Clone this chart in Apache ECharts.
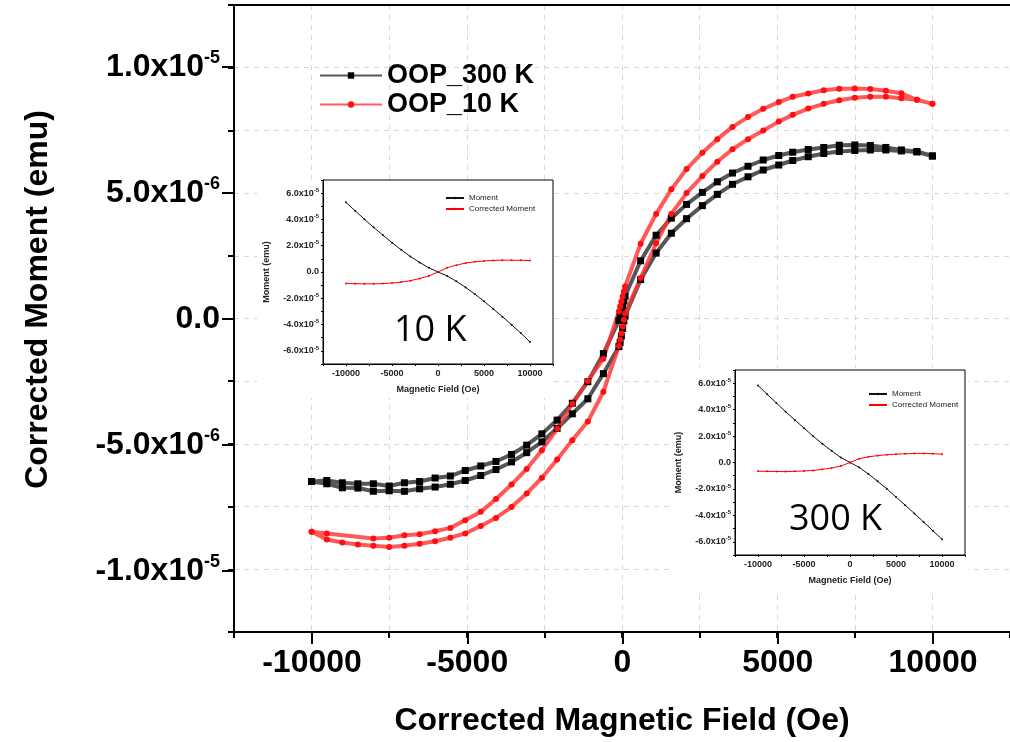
<!DOCTYPE html>
<html><head><meta charset="utf-8">
<script src="https://cdn.jsdelivr.net/npm/echarts@6.0.0/dist/echarts.min.js"></script>
<style>html,body{margin:0;padding:0;background:#fff}#c{width:1010px;height:742px}</style>
</head><body><div id="c"></div>
<script>
// ---- Main loops: field (Oe), moment in units of 1e-6 emu ----
const fieldDown = [10000,9500,9000,8500,8000,7500,7000,6500,6000,5500,5050,4550,4060,3560,3070,2590,2080,1590,1100,600,
  100,60,20,-20,-60,-100,
  -600,-1100,-1600,-2090,-2580,-3070,-3560,-4060,-4550,-5050,-5530,-6020,-6520,-7010,-7500,-8010,-8510,-9010,-9510,-10000];
const fieldUp = [-10000,-9510,-9010,-8510,-8010,-7500,-7010,-6520,-6020,-5530,-5050,-4550,-4060,-3560,-3070,-2580,-2090,-1600,-1100,-600,
  -100,-60,-20,20,60,100,
  600,1100,1590,2080,2590,3070,3560,4060,4550,5050,5500,6000,6500,7000,7500,8000,8500,9000,9500,10000];

const momentDown300 = [6.48,6.66,6.72,6.82,6.90,6.92,6.91,6.82,6.74,6.63,6.50,6.32,6.07,5.80,5.45,5.03,4.55,4.00,3.32,2.30,
  0.89,0.70,0.50,0.30,0.10,-0.08,
  -1.40,-2.52,-3.38,-4.05,-4.60,-5.05,-5.42,-5.70,-5.88,-6.06,-6.28,-6.36,-6.50,-6.55,-6.68,-6.59,-6.59,-6.55,-6.46,-6.50];
const momentUp300 = [-6.50,-6.59,-6.75,-6.76,-6.89,-6.87,-6.89,-6.79,-6.72,-6.61,-6.46,-6.26,-6.02,-5.72,-5.35,-4.92,-4.38,-3.80,-3.20,-2.20,
  -1.12,-0.95,-0.70,-0.40,-0.10,0.10,
  1.55,2.61,3.40,3.98,4.50,4.95,5.35,5.65,5.92,6.12,6.30,6.45,6.58,6.66,6.70,6.72,6.72,6.68,6.64,6.48];

const fieldDown10 = [10000,9500,9000,8500,8000,7500,7000,6500,6000,5500,5050,4550,4060,3560,3070,2590,2080,1590,1100,600,
  100,60,20,-20,-60,-100,
  -600,-1100,-1600,-2090,-2580,-3070,-3560,-4060,-4550,-5050,-5530,-6020,-6520,-7010,-7500,-8010,-9510,-10000];
const momentDown10 = [8.56,8.72,8.98,9.08,9.15,9.17,9.16,9.10,8.97,8.84,8.63,8.36,8.03,7.64,7.15,6.61,5.96,5.15,4.17,2.98,
  1.28,1.08,0.88,0.68,0.48,0.28,
  -1.60,-2.49,-3.40,-4.40,-5.25,-6.00,-6.62,-7.20,-7.71,-8.04,-8.35,-8.48,-8.60,-8.64,-8.74,-8.77,-8.57,-8.50];
const momentUp10 = [-8.50,-8.81,-8.93,-9.01,-9.06,-9.11,-9.06,-8.98,-8.88,-8.74,-8.57,-8.27,-7.95,-7.52,-6.98,-6.35,-5.62,-4.85,-4.11,-2.92,
  -1.10,-0.85,-0.60,-0.32,-0.05,0.20,
  1.61,3.00,4.17,5.00,5.68,6.25,6.75,7.15,7.50,7.85,8.12,8.37,8.56,8.70,8.80,8.84,8.84,8.78,8.72,8.56];

// ---- Insets: field (Oe), moment in units of 1e-5 emu ----
const insetField = [-10000,-9000,-8000,-7000,-6000,-5000,-4000,-3000,-2000,-1000,0,1000,2000,3000,4000,5000,6000,7000,8000,9000,10000];
const rawMoment10 = [5.30,4.65,4.02,3.40,2.81,2.23,1.69,1.18,0.73,0.32,0.00,-0.30,-0.71,-1.17,-1.68,-2.23,-2.81,-3.40,-4.02,-4.65,-5.32];
const corrMoment10 = [-0.87,-0.89,-0.90,-0.90,-0.88,-0.84,-0.77,-0.66,-0.50,-0.30,0.00,0.33,0.52,0.68,0.78,0.84,0.88,0.90,0.90,0.89,0.87];
const rawMoment300 = [5.83,5.16,4.50,3.85,3.22,2.60,1.99,1.42,0.88,0.38,0.00,-0.37,-0.87,-1.42,-1.99,-2.61,-3.23,-3.86,-4.50,-5.16,-5.81];
const corrMoment300 = [-0.66,-0.67,-0.68,-0.69,-0.67,-0.64,-0.60,-0.52,-0.42,-0.27,0.00,0.28,0.43,0.52,0.59,0.63,0.66,0.68,0.68,0.67,0.63];

// ---- Tick labels ----
const xTickValues = [-10000,-5000,0,5000,10000];
const yTickValues = [-10,-5,0,5,10];
const yTickMantissa = ['-1.0x10','-5.0x10','0.0','5.0x10','1.0x10'];
const yTickExp = ['-5','-6','','-6','-5'];
const insetYTickValues = [-6,-4,-2,0,2,4,6];
const insetYTickMantissa = ['-6.0x10','-4.0x10','-2.0x10','0.0','2.0x10','4.0x10','6.0x10'];
const insetYTickExp = ['-5','-5','-5','','-5','-5','-5'];

const zip = (a,b) => a.map((v,i)=>[v,b[i]]);
const loop300 = zip(fieldDown, momentDown300).concat(zip(fieldUp, momentUp300));
const loop10 = zip(fieldDown10, momentDown10).concat(zip(fieldUp, momentUp10));

const FONT = 'Liberation Sans';
function yMainFmt(v){
  const i = yTickValues.indexOf(v);
  if (i < 0) return '';
  return yTickExp[i] ? '{m|'+yTickMantissa[i]+'}{e|'+yTickExp[i]+'}' : '{m|'+yTickMantissa[i]+'}';
}
function yInsetFmt(v){
  const i = insetYTickValues.indexOf(v);
  if (i < 0) return '';
  return insetYTickExp[i] ? '{m|'+insetYTickMantissa[i]+'}{e|'+insetYTickExp[i]+'}' : '{m|'+insetYTickMantissa[i]+'}';
}
function xFmt(v){ return xTickValues.indexOf(v) >= 0 ? String(v) : ''; }

const insetAxisCommon = {
  z: 3,
  axisLine:{onZero:false, lineStyle:{color:'#000',width:1}},
  axisTick:{length:2,lineStyle:{color:'#000',width:1}},
  splitLine:{show:false},
  nameTextStyle:{fontFamily:FONT,fontSize:9,fontWeight:'bold',color:'#222'}
};
function insetX(grid){
  return Object.assign({}, insetAxisCommon, {
    type:'value', gridIndex:grid, min:-12500, max:12500, interval:2500,
    name:'Magnetic Field (Oe)', nameLocation:'middle', nameGap:21,
    axisLabel:{formatter:xFmt, margin:5, fontFamily:FONT, fontSize:9, fontWeight:'bold', color:'#222'}
  });
}
function insetY(grid){
  return Object.assign({}, insetAxisCommon, {
    type:'value', gridIndex:grid, min:-7, max:7, interval:1,
    name:'Moment (emu)', nameLocation:'middle', nameGap:52,
    axisLabel:{formatter:yInsetFmt, margin:4,
      rich:{m:{fontFamily:FONT,fontSize:9,fontWeight:'bold',color:'#222',lineHeight:12},
            e:{fontFamily:FONT,fontSize:6,fontWeight:'bold',color:'#222',lineHeight:9,verticalAlign:'top'}}}
  });
}
function insetSeries(name, data, xi, yi, color){
  return {name, type:'line', xAxisIndex:xi, yAxisIndex:yi, data, z:4,
    symbol:'circle', symbolSize:2, showSymbol:true,
    itemStyle:{color}, lineStyle:{color, width:1}};
}

const chart = echarts.init(document.getElementById('c'), null, {renderer:'canvas'});
chart.setOption({
  animation:false,
  backgroundColor:'#fff',
  grid:[
    {left:234, right:0, top:5, bottom:110},
    {left:312, right:77, top:67, bottom:171},
    {left:323, top:180, width:230, height:184, show:true, borderColor:'#000', borderWidth:1, backgroundColor:'transparent', z:3},
    {left:735, top:370, width:230, height:185, show:true, borderColor:'#000', borderWidth:1, backgroundColor:'transparent', z:3}
  ],
  xAxis:[
    {type:'value', gridIndex:0, min:-12500, max:12500, interval:2500,
      axisLine:{onZero:false, lineStyle:{color:'#000',width:2}}, axisTick:{length:6,lineStyle:{color:'#000',width:2}},
      axisLabel:{show:false},
      splitLine:{show:true,lineStyle:{color:'#d8d8d8',width:1,type:[5,5]}},
      name:'Corrected Magnetic Field (Oe)', nameLocation:'middle', nameGap:73,
      nameTextStyle:{fontFamily:FONT,fontSize:32,fontWeight:'bold',color:'#000'}},
    {type:'value', gridIndex:0, position:'top', min:-12500, max:12500,
      axisLine:{show:true, onZero:false, lineStyle:{color:'#000',width:2}}, axisTick:{show:false}, axisLabel:{show:false}, splitLine:{show:false}},
    {type:'value', gridIndex:1, min:-10000, max:10000, interval:5000, offset:61,
      axisLine:{show:false, onZero:false}, axisTick:{show:true, length:12,lineStyle:{color:'#000',width:2}},
      axisLabel:{formatter:xFmt, margin:15, fontFamily:FONT, fontSize:32, fontWeight:'bold', color:'#000'},
      splitLine:{show:false}},
    insetX(2), insetX(3)
  ],
  yAxis:[
    {type:'value', gridIndex:0, min:-12.5, max:12.5, interval:2.5,
      axisLine:{onZero:false, lineStyle:{color:'#000',width:2}}, axisTick:{length:6,lineStyle:{color:'#000',width:2}},
      axisLabel:{show:false},
      splitLine:{show:true,lineStyle:{color:'#d8d8d8',width:1,type:[5,5]}},
      name:'Corrected Moment (emu)', nameLocation:'middle', nameGap:180,
      nameTextStyle:{fontFamily:FONT,fontSize:32,fontWeight:'bold',color:'#000',padding:[0,0,0,38]}},
    {type:'value', gridIndex:1, min:-10, max:10, interval:5, offset:78,
      axisLine:{show:false, onZero:false}, axisTick:{show:true, length:12,lineStyle:{color:'#000',width:2}},
      axisLabel:{formatter:yMainFmt, margin:14,
        rich:{m:{fontFamily:FONT,fontSize:32,fontWeight:'bold',color:'#000',lineHeight:36},
              e:{fontFamily:FONT,fontSize:18,fontWeight:'bold',color:'#000',lineHeight:26,verticalAlign:'top'}}},
      splitLine:{show:false}},
    insetY(2), insetY(3)
  ],
  legend:[
    {data:['OOP_300 K','OOP_10 K'], orient:'vertical', left:314, top:57, itemWidth:62, itemHeight:8, itemGap:2,
      textStyle:{fontFamily:FONT,fontSize:27,fontWeight:'bold',color:'#000'}},
    {data:['Moment','Corrected Moment'], orient:'vertical', left:440, top:189, itemWidth:18, itemHeight:3, itemGap:3,
      textStyle:{fontFamily:FONT,fontSize:8,color:'#222'}, z:5},
    {data:['Moment','Corrected Moment'], orient:'vertical', left:863, top:385, itemWidth:18, itemHeight:3, itemGap:3,
      textStyle:{fontFamily:FONT,fontSize:8,color:'#222'}, z:5}
  ],
  graphic:[
    {type:'rect', z:1, shape:{x:257,y:180,width:296,height:218}, style:{fill:'#fff'}},
    {type:'rect', z:1, shape:{x:672,y:368,width:296,height:222}, style:{fill:'#fff'}},
    {type:'text', z:10, x:394, y:331, style:{text:'10 K', fontFamily:'Open Sans', fontSize:36, fill:'#000', align:'left', verticalAlign:'middle'}},
    {type:'text', z:10, x:789, y:520, style:{text:'300 K', fontFamily:'Open Sans', fontSize:36, fill:'#000', align:'left', verticalAlign:'middle'}}
  ],
  series:[
    {name:'OOP_300 K', type:'line', xAxisIndex:0, yAxisIndex:0, data:loop300, z:2,
      symbol:'rect', symbolSize:7, showSymbol:true, itemStyle:{color:'#000'},
      lineStyle:{color:'#383838', width:4, opacity:0.85}},
    {name:'OOP_10 K', type:'line', xAxisIndex:0, yAxisIndex:0, data:loop10, z:2,
      symbol:'circle', symbolSize:6, showSymbol:true, itemStyle:{color:'#ff1010'},
      lineStyle:{color:'#ff3030', width:4, opacity:0.8}},
    insetSeries('Moment', zip(insetField, rawMoment10), 3, 2, '#111'),
    insetSeries('Corrected Moment', zip(insetField, corrMoment10), 3, 2, '#ff0000'),
    insetSeries('Moment', zip(insetField, rawMoment300), 4, 3, '#111'),
    insetSeries('Corrected Moment', zip(insetField, corrMoment300), 4, 3, '#ff0000')
  ]
});
</script></body></html>
